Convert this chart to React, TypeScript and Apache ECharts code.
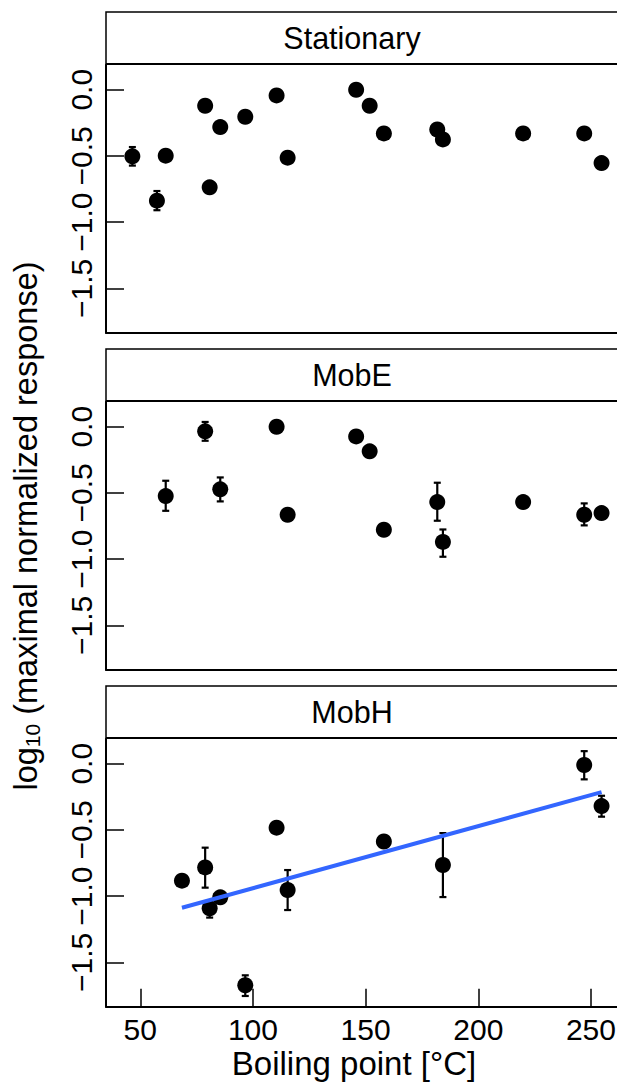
import React, { useEffect, useRef } from "react";
import * as echarts from "echarts";

const panelNames = ["Stationary", "MobE", "MobH"];
const xTicks = [50, 100, 150, 200, 250];
const yTicks = [-1.5, -1.0, -0.5, 0.0];

// Stationary
const statX = [46.5, 57.4, 61.3, 78.8, 80.8, 85.5, 96.6, 110.5, 115.4, 145.8, 151.8, 158.1, 181.8, 184.3, 219.9, 247.0, 254.7];
const statY = [-0.503, -0.838, -0.498, -0.121, -0.737, -0.282, -0.204, -0.043, -0.513, 0.0, -0.121, -0.33, -0.3, -0.375, -0.33, -0.33, -0.554];
const statErrX = [46.5, 57.4];
const statErrLo = [-0.573, -0.91];
const statErrHi = [-0.433, -0.765];

// MobE
const mobEX = [61.3, 78.8, 85.5, 110.5, 115.4, 145.8, 151.8, 158.1, 181.8, 184.3, 219.9, 247.0, 254.7];
const mobEY = [-0.524, -0.035, -0.473, 0.0, -0.665, -0.073, -0.186, -0.778, -0.569, -0.87, -0.569, -0.665, -0.652];
const mobEErrX = [61.3, 78.8, 85.5, 181.8, 184.3, 247.0];
const mobEErrLo = [-0.635, -0.106, -0.564, -0.71, -0.982, -0.745];
const mobEErrHi = [-0.408, 0.036, -0.383, -0.423, -0.776, -0.579];

// MobH
const mobHX = [68.5, 78.8, 80.8, 85.5, 96.6, 110.5, 115.4, 158.1, 184.3, 247.0, 254.7];
const mobHY = [-0.883, -0.783, -1.092, -1.009, -1.673, -0.483, -0.954, -0.587, -0.765, -0.01, -0.32];
const mobHErrX = [78.8, 80.8, 96.6, 115.4, 184.3, 247.0, 254.7];
const mobHErrLo = [-0.936, -1.162, -1.754, -1.105, -1.007, -0.118, -0.4];
const mobHErrHi = [-0.634, -1.03, -1.598, -0.803, -0.524, 0.095, -0.242];

const FONT = "'Liberation Sans', Arial, Helvetica, sans-serif";

function lmFit(xs: number[], ys: number[]) {
  const n = xs.length;
  const mx = xs.reduce((a, b) => a + b, 0) / n;
  const my = ys.reduce((a, b) => a + b, 0) / n;
  let sxy = 0, sxx = 0;
  for (let i = 0; i < n; i++) {
    sxy += (xs[i] - mx) * (ys[i] - my);
    sxx += (xs[i] - mx) * (xs[i] - mx);
  }
  const b = sxy / sxx;
  const a = my - b * mx;
  const x0 = Math.min(...xs), x1 = Math.max(...xs);
  return [[x0, a + b * x0], [x1, a + b * x1]];
}

export default function App() {
  const ref = useRef<HTMLDivElement>(null);
  useEffect(() => {
    if (!ref.current) return;
    const chart = echarts.init(ref.current, null, { renderer: "svg" });
    const PITCH = 337;
    const grids = panelNames.map((_, i) => ({
      left: 106, top: 64.7 + PITCH * i, width: 519, height: 268,
      outerBoundsMode: "none", containLabel: false,
    }));
    const fmt = (v: number) => (v < 0 ? "\u2212" : "") + Math.abs(v).toFixed(1);

    const xAxes = panelNames.map((_, i) => ({
      type: "value", gridIndex: i, min: 34.8, max: 265.1,
      axisLine: { show: true, onZero: false, lineStyle: { color: "#000", width: 2 } },
      axisTick: { show: i === 2, inside: true, length: 18, customValues: xTicks, lineStyle: { color: "#000", width: 1.5 } },
      axisLabel: { show: i === 2, customValues: xTicks, fontSize: 30, lineHeight: 28, color: "#000", margin: 9, fontFamily: FONT },
      splitLine: { show: false },
    }));
    const yAxes = panelNames.map((_, i) => ({
      type: "value", gridIndex: i, min: -1.835, max: 0.189,
      axisLine: { show: true, onZero: false, lineStyle: { color: "#000", width: 2 } },
      axisTick: { show: true, inside: true, length: 18, customValues: yTicks, lineStyle: { color: "#000", width: 1.5 } },
      axisLabel: { show: true, customValues: yTicks, rotate: 90, formatter: fmt, fontSize: 30, color: "#000", margin: 10, fontFamily: FONT },
      splitLine: { show: false },
    }));

    const errSeries = (i: number, xs: number[], lo: number[], hi: number[]) => ({
      type: "custom", xAxisIndex: i, yAxisIndex: i,
      data: xs.map((x, k) => [x, lo[k], hi[k]]),
      encode: { x: 0, y: [1, 2] },
      z: 2,
      renderItem: (params: any, api: any) => {
        const x = api.value(0), l = api.value(1), h = api.value(2);
        const p1 = api.coord([x, l]);
        const p2 = api.coord([x, h]);
        const w = 3.5;
        const style = { stroke: "#000", lineWidth: 2.2 };
        return {
          type: "group",
          children: [
            { type: "line", shape: { x1: p1[0], y1: p1[1], x2: p2[0], y2: p2[1] }, style },
            { type: "line", shape: { x1: p1[0] - w, y1: p1[1], x2: p1[0] + w, y2: p1[1] }, style },
            { type: "line", shape: { x1: p2[0] - w, y1: p2[1], x2: p2[0] + w, y2: p2[1] }, style },
          ],
        };
      },
    });
    const ptSeries = (i: number, xs: number[], ys: number[]) => ({
      type: "scatter", xAxisIndex: i, yAxisIndex: i,
      data: xs.map((x, k) => [x, ys[k]]),
      symbol: "circle", symbolSize: 16,
      itemStyle: { color: "#000", opacity: 1 },
      z: 3,
    });

    const graphics: any[] = [];
    panelNames.forEach((name, i) => {
      graphics.push({
        type: "rect", shape: { x: 106, y: 12 + PITCH * i, width: 540, height: 52 },
        style: { fill: "#fff", stroke: "#000", lineWidth: 1.5 }, z: 10,
      });
      graphics.push({
        type: "line", shape: { x1: 106, y1: 64 + PITCH * i, x2: 640, y2: 64 + PITCH * i },
        style: { stroke: "#000", lineWidth: 2 }, z: 11,
      });
      graphics.push({
        type: "text", x: 352, y: 38 + PITCH * i, z: 12,
        style: { text: name, fontSize: 30.5, fontFamily: FONT, fill: "#000", align: "center", verticalAlign: "middle", textAlign: "center", textVerticalAlign: "middle" },
      });
    });
    graphics.push({
      type: "text", x: 354, y: 1063, z: 12,
      style: { text: "Boiling point [°C]", fontSize: 33, lineHeight: 30, fontFamily: FONT, fill: "#000", align: "center", verticalAlign: "middle", textAlign: "center", textVerticalAlign: "middle" },
    });
    graphics.push({
      type: "text", x: 26, y: 526, rotation: Math.PI / 2, z: 12,
      style: {
        text: "{a|log}{s|10}{a| (maximal normalized response)}",
        fontFamily: FONT, fill: "#000", align: "center", verticalAlign: "middle", textAlign: "center", textVerticalAlign: "middle",
        rich: {
          a: { fontSize: 32.5, fontFamily: FONT, fill: "#000", lineHeight: 38 },
          s: { fontSize: 21, fontFamily: FONT, fill: "#000", lineHeight: 38, padding: [13, 0, 0, 0] },
        },
      },
    });

    const fit = lmFit(mobHX, mobHY);

    chart.setOption({
      animation: false,
      grid: grids,
      xAxis: xAxes,
      yAxis: yAxes,
      graphic: graphics,
      series: [
        errSeries(0, statErrX, statErrLo, statErrHi),
        ptSeries(0, statX, statY),
        errSeries(1, mobEErrX, mobEErrLo, mobEErrHi),
        ptSeries(1, mobEX, mobEY),
        errSeries(2, mobHErrX, mobHErrLo, mobHErrHi),
        ptSeries(2, mobHX, mobHY),
        {
          type: "line", xAxisIndex: 2, yAxisIndex: 2, data: fit, showSymbol: false, symbol: "none",
          lineStyle: { color: "#3366FF", width: 4 }, z: 4,
        },
      ],
    } as any);
    return () => chart.dispose();
  }, []);
  return <div ref={ref} style={{ position: "absolute", left: 0, top: 0, width: 617, height: 1082, background: "#fff", overflow: "hidden" }} />;
}
